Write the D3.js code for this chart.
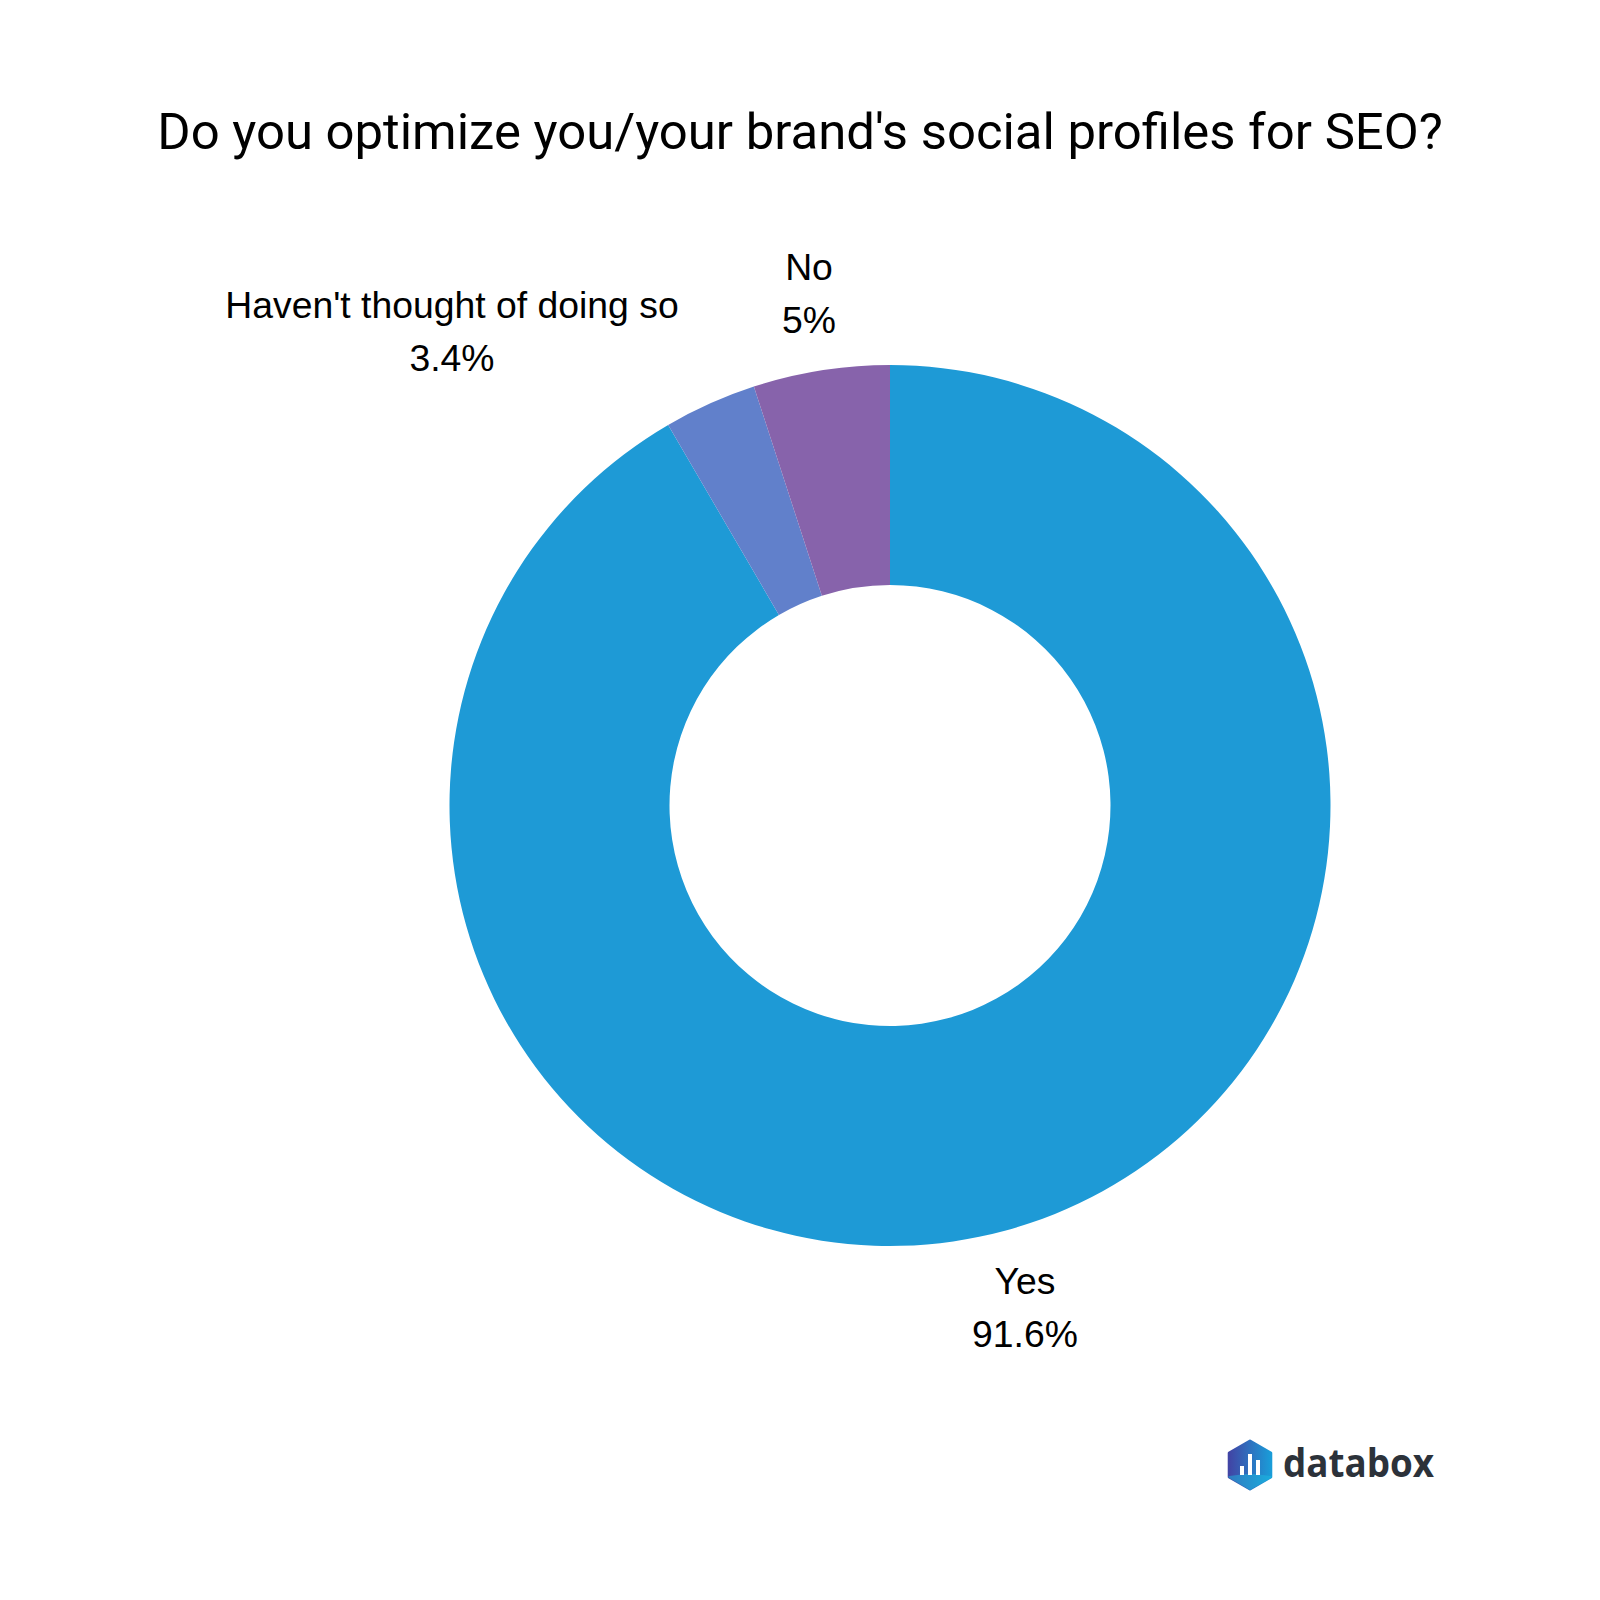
<!DOCTYPE html>
<html>
<head>
<meta charset="utf-8">
<script src="https://cdn.jsdelivr.net/npm/d3@7"></script>
<style>
  html, body { margin: 0; padding: 0; background: #fff; }
  svg { display: block; }
</style>
</head>
<body>
<div id="chart"></div>
<script>
// slices, clockwise from 12 o'clock
var categories = ["Yes", "Haven't thought of doing so", "No"];
var percents = [91.6, 3.4, 5];
var percentLabels = ["91.6%", "3.4%", "5%"];
var sliceColors = ["#1e9ad6", "#6180cb", "#8763ab"];

var svgWidth = 1600;
var svgHeight = 1600;
var cx = 890;
var cy = 805.5;
var outerRadius = 440.5;
var innerRadius = 220.5;

var svg = d3.select("#chart")
  .append("svg")
  .attr("width", svgWidth)
  .attr("height", svgHeight);

svg.append("text")
  .attr("x", 800)
  .attr("y", 149)
  .attr("text-anchor", "middle")
  .attr("font-family", "Roboto")
  .attr("font-size", 50.85)
  .attr("fill", "#000")
  .text("Do you optimize you/your brand's social profiles for SEO?");

var slices = categories.map((c, i) => ({ name: c, value: percents[i], label: percentLabels[i], color: sliceColors[i] }));

var pie = d3.pie().sort(null).value(d => d.value);
var arc = d3.arc().innerRadius(innerRadius).outerRadius(outerRadius);

var ring = svg.append("g").attr("transform", `translate(${cx}, ${cy})`);

ring.selectAll("path")
  .data(pie(slices))
  .enter()
  .append("path")
  .attr("d", arc)
  .attr("fill", d => d.data.color);

// label placement, just outside the ring
var labelPos = [[1025, 1294], [452, 318], [809, 280]];

var labels = svg.selectAll("g.label")
  .data(slices)
  .enter()
  .append("g")
  .attr("class", "label")
  .attr("transform", (d, i) => `translate(${labelPos[i][0]}, ${labelPos[i][1]})`)
  .attr("font-family", "Liberation Sans")
  .attr("font-size", 37.35)
  .attr("text-anchor", "middle")
  .attr("fill", "#000");

labels.append("text").text(d => d.name);
labels.append("text").attr("y", 53).text(d => d.label);

// databox logo
var logoGrad = svg.append("defs").append("linearGradient")
  .attr("id", "logoGrad");
logoGrad.append("stop").attr("offset", "0%").attr("stop-color", "#4145a5");
logoGrad.append("stop").attr("offset", "100%").attr("stop-color", "#1a9cd8");

var logo = svg.append("g").attr("transform", "translate(1250, 1465)");
var hexRadius = 24;
var hexPoints = d3.range(6).map(i => {
  var a = Math.PI / 3 * i;
  return [hexRadius * Math.sin(a), -hexRadius * Math.cos(a)];
});
logo.append("path")
  .attr("d", d3.line()(hexPoints) + "Z")
  .attr("fill", "url(#logoGrad)")
  .attr("stroke", "url(#logoGrad)")
  .attr("stroke-width", 3)
  .attr("stroke-linejoin", "round");

// lighter facet along the bottom of the hexagon
logo.append("path")
  .attr("d", d3.line()([hexPoints[2], hexPoints[3], hexPoints[4], [-4, 10], [4, 10]]) + "Z")
  .attr("fill", "#1cc0e4")
  .attr("opacity", 0.45)
  .attr("stroke", "#1cc0e4")
  .attr("stroke-width", 2)
  .attr("stroke-linejoin", "round");

var logoBars = [[-10, 9], [-2, 21], [6, 15]];
logo.selectAll("rect")
  .data(logoBars)
  .enter()
  .append("rect")
  .attr("x", d => d[0])
  .attr("y", d => 10 - d[1])
  .attr("width", 4)
  .attr("height", d => d[1])
  .attr("fill", "#fff");

svg.append("text")
  .attr("x", 1283)
  .attr("y", 1477)
  .attr("font-family", "Open Sans")
  .attr("font-weight", 700)
  .attr("font-size", 40)
  .attr("textLength", 151)
  .attr("lengthAdjust", "spacingAndGlyphs")
  .attr("fill", "#2c323a")
  .text("databox");
</script>
</body>
</html>
